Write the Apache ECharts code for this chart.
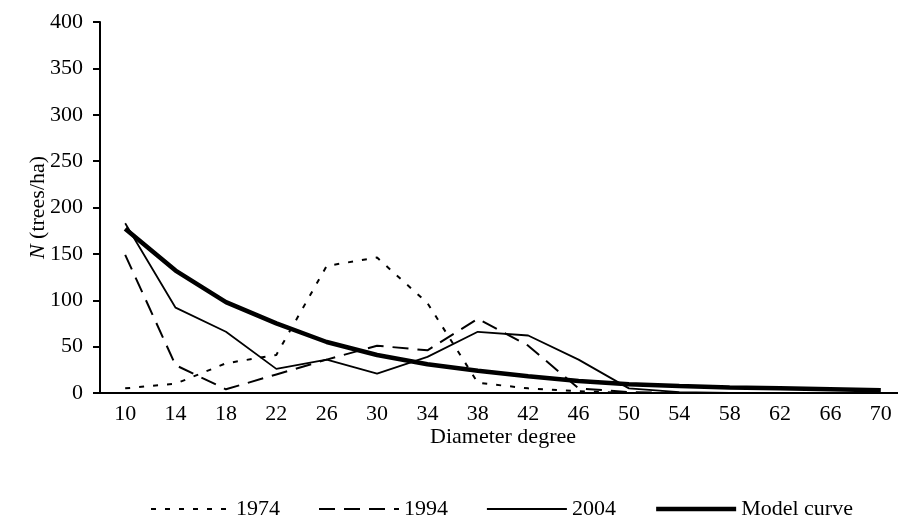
<!DOCTYPE html>
<html>
<head>
<meta charset="utf-8">
<script src="https://cdn.jsdelivr.net/npm/echarts@6/dist/echarts.min.js"></script>
<style>
  html, body { margin: 0; padding: 0; background: #fff; }
  #chart { width: 898px; height: 531px; }
</style>
</head>
<body>
<div id="chart"></div>
<script>
// diameter classes (cm)
var diameters = ['10', '14', '18', '22', '26', '30', '34', '38', '42', '46', '50', '54', '58', '62', '66', '70'];
var n1974 = [5, 10, 32, 41, 137, 146, 97, 11, 5, 2, 0, 0, 0, 0, 0, 0];
var n1994 = [149, 30, 4, 20, 36, 51, 46, 80, 51, 5, 1, 0, 0, 0, 0, 0];
var n2004 = [183, 92, 66, 26, 36, 21, 39, 66, 62, 36, 5, 1, 0, 0, 0, 0];
var nModel = [177, 132, 98, 75, 55, 41, 31, 24, 18, 13, 9.5, 7.5, 6, 5, 4, 3];

var font = 'Liberation Serif, Times New Roman, serif';
var myChart = echarts.init(document.getElementById('chart'));

function lineSeries(name, data, width, type) {
  return {
    name: name,
    type: 'line',
    data: data,
    symbol: 'none',
    color: '#000',
    lineStyle: { color: '#000', width: width, type: type }
  };
}

myChart.setOption({
  animation: false,
  backgroundColor: '#fff',
  textStyle: { fontFamily: font, color: '#000' },
  grid: { left: 100, top: 22, width: 806, bottom: 138, outerBoundsMode: 'none', containLabel: false },
  legend: {
    left: 145,
    top: 493,
    itemWidth: 80,
    itemHeight: 14,
    itemGap: 38,
    itemTextGap: 0,
    itemStyle: { opacity: 0 },
    lineStyle: { width: 'inherit' },
    textStyle: { fontFamily: font, fontSize: 22, color: '#000' },
    data: ['1974', '1994', '2004', 'Model curve']
  },
  xAxis: {
    type: 'category',
    data: diameters,
    boundaryGap: true,
    name: 'Diameter degree',
    nameLocation: 'middle',
    nameGap: 33,
    nameMoveOverlap: false,
    nameTextStyle: { fontFamily: font, fontSize: 22, color: '#000' },
    axisLine: { lineStyle: { color: '#000', width: 2 } },
    axisTick: { length: 7, lineStyle: { color: '#000', width: 2 } },
    axisLabel: { margin: 10, fontFamily: font, fontSize: 22, color: '#000' },
    splitLine: { show: false }
  },
  yAxis: {
    type: 'value',
    min: 0,
    max: 400,
    interval: 50,
    name: '{i|N} (trees/ha)',
    nameLocation: 'middle',
    nameGap: 51,
    nameMoveOverlap: false,
    nameTextStyle: {
      fontFamily: font, fontSize: 22, color: '#000',
      rich: { i: { fontFamily: font, fontSize: 22, fontStyle: 'italic', color: '#000' } }
    },
    axisLine: { show: true, lineStyle: { color: '#000', width: 2 } },
    axisTick: { show: true, length: 7, lineStyle: { color: '#000', width: 2 } },
    axisLabel: { margin: 17, fontFamily: font, fontSize: 22, color: '#000' },
    splitLine: { show: false }
  },
  series: [
    lineSeries('1974', n1974, 2, [5, 9]),
    lineSeries('1994', n1994, 2, [16, 9]),
    lineSeries('2004', n2004, 1.8, 'solid'),
    lineSeries('Model curve', nModel, 4.5, 'solid')
  ]
});
</script>
</body>
</html>
